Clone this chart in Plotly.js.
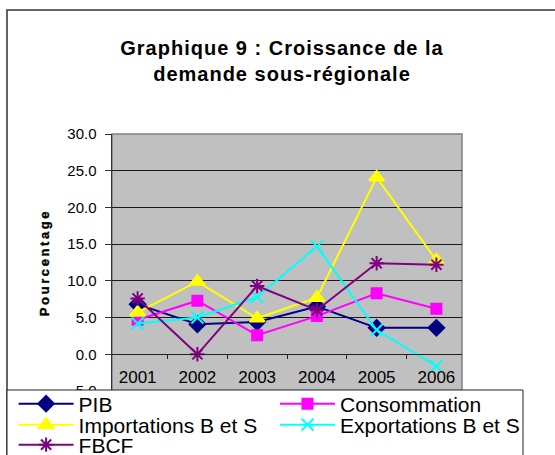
<!DOCTYPE html>
<html>
<head>
<meta charset="utf-8">
<script src="https://cdn.plot.ly/plotly-3.0.1.min.js"></script>
<style>
  html, body { margin: 0; padding: 0; background: #fff; }
  #chart { width: 555px; height: 455px; }
  .gtitle { letter-spacing: 1px; }
  .ytitle { letter-spacing: 2.6px; stroke: #000; stroke-width: 0.4px; }
</style>
</head>
<body>
<div id="chart"></div>
<script>
var years = ['2001', '2002', '2003', '2004', '2005', '2006'];
var pib = [6.8, 4.1, 4.4, 6.5, 3.6, 3.6];
var consommation = [4.7, 7.3, 2.6, 5.2, 8.3, 6.2];
var importations = [5.7, 9.9, 4.9, 7.7, 24.1, 12.8];
var exportations = [4.2, 5.0, 7.8, 14.7, 3.3, -1.6];
var fbcf = [7.6, 0.0, 9.3, 6.0, 12.4, 12.2];
var seriesNames = ['PIB', 'Consommation', 'Importations B et S', 'Exportations B et S', 'FBCF'];
var yTickVals = [-5, 0, 5, 10, 15, 20, 25, 30];
var yTickText = ['-5.0', '0.0', '5.0', '10.0', '15.0', '20.0', '25.0', '30.0'];
var yMin = -5, yMax = 30;

var FONT = 'Arial, "Liberation Sans", sans-serif';

function tr(name, y, color, symbol, size, legendId) {
  return {
    type: 'scatter', mode: 'lines+markers', name: name,
    x: years, y: y,
    line: {color: color, width: 2},
    marker: {symbol: symbol, size: size, color: color, line: {color: color, width: 2}},
    legend: legendId,
    hoverinfo: 'x+y+name'
  };
}

var data = [
  tr(seriesNames[0], pib, '#000080', 'diamond', 12, 'legend'),
  tr(seriesNames[1], consommation, '#FF00FF', 'square', 10, 'legend2'),
  tr(seriesNames[2], importations, '#FFFF00', 'triangle-up', 13, 'legend3'),
  tr(seriesNames[3], exportations, '#00FFFF', 'x-thin', 12, 'legend4'),
  tr(seriesNames[4], fbcf, '#800080', 'asterisk', 12, 'legend5')
];

// plot area: x 112..462, y 134..391
var PL = 112, PR = 462, PT = 134, PB = 391, W = 555, H = 455;
function px2x(p) { return (p - PL) / (PR - PL); }
function px2y(p) { return (PB - p) / (PB - PT); }

function legendAt(xpx, ypx) {
  return {
    x: px2x(xpx), xanchor: 'left', xref: 'paper',
    y: px2y(ypx), yanchor: 'middle', yref: 'paper',
    bgcolor: 'rgba(0,0,0,0)', borderwidth: 0,
    font: {family: FONT, size: 21, color: '#000'},
    itemwidth: 55,
    itemclick: false, itemdoubleclick: false
  };
}

var layout = {
  width: W, height: H,
  margin: {l: PL, r: W - PR, t: PT, b: H - PB, autoexpand: false},
  paper_bgcolor: '#ffffff',
  plot_bgcolor: '#C0C0C0',
  font: {family: FONT, color: '#000'},
  showlegend: true,
  title: {
    text: 'Graphique 9 : Croissance de la<br>demande sous-régionale',
    font: {family: FONT, size: 20, color: '#000', weight: 'bold'},
    x: 282 / W, xref: 'container', xanchor: 'center',
    y: 1 - 55 / H, yref: 'container', yanchor: 'middle'
  },
  xaxis: {
    type: 'category',
    anchor: 'free',
    position: (0 - yMin) / (yMax - yMin),
    showgrid: false,
    showline: true, linecolor: '#222', linewidth: 1,
    ticks: 'outside', ticklen: 4, tickcolor: '#222', tickwidth: 1,
    tickson: 'boundaries',
    tickfont: {family: FONT, size: 17, color: '#000'},
    ticklabelstandoff: 7,
    zeroline: false,
    fixedrange: true
  },
  yaxis: {
    range: [yMin, yMax],
    tickvals: yTickVals, ticktext: yTickText,
    showgrid: true, gridcolor: '#1a1a1a', gridwidth: 1,
    zeroline: false,
    showline: true, linecolor: '#333', linewidth: 1.5,
    ticks: 'outside', ticklen: 6, tickcolor: '#333', tickwidth: 1,
    tickfont: {family: FONT, size: 15, color: '#000'},
    ticklabelstandoff: 5,
    ticklabelshift: -3.5,
    title: {
      text: 'Pourcentage',
      font: {family: FONT, size: 13, color: '#000', weight: 'bold'},
      standoff: 14
    },
    fixedrange: true
  },
  legend: legendAt(13.6, 404),
  legend2: legendAt(275, 404),
  legend3: legendAt(13.6, 425),
  legend4: legendAt(275, 425),
  legend5: legendAt(13.6, 445),
  shapes: [
    // outer chart frame (cut by the page edges)
    {type: 'rect', xref: 'paper', yref: 'paper', layer: 'below',
     x0: px2x(7), x1: px2x(W + 10), y0: px2y(H + 20), y1: px2y(10),
     line: {color: '#333', width: 1.5}, fillcolor: 'rgba(0,0,0,0)'},
    // plot area border
    {type: 'rect', xref: 'paper', yref: 'paper', layer: 'below',
     x0: 0, x1: 1, y0: 0, y1: 1,
     line: {color: '#808080', width: 1.5}, fillcolor: 'rgba(0,0,0,0)'},
    // legend box overlapping the bottom of the plot
    {type: 'rect', xref: 'paper', yref: 'paper', layer: 'above',
     x0: px2x(7), x1: px2x(523), y0: px2y(H + 20), y1: px2y(390),
     line: {color: '#222', width: 1}, fillcolor: '#ffffff'}
  ]
};

Plotly.newPlot('chart', data, layout, {displayModeBar: false, staticPlot: true});
</script>
</body>
</html>
